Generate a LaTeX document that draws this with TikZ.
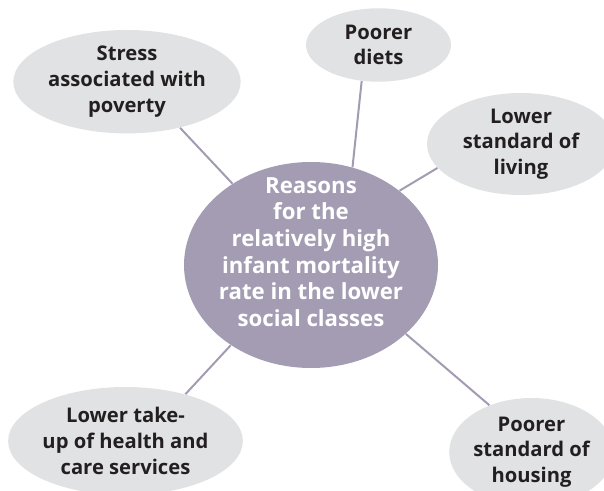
\documentclass[tikz,border=0pt]{standalone}
\usepackage{fontspec}
\setmainfont{Open Sans}
\usetikzlibrary{shapes.geometric}

\definecolor{bubble}{HTML}{E1E2E3}
\definecolor{hub}{HTML}{A49CB3}
\definecolor{spoke}{HTML}{A39BB2}
\definecolor{ink}{HTML}{231F20}

\begin{document}
\begin{tikzpicture}[x=0.5pt,y=-0.5pt,
  reason/.style={ellipse, fill=bubble, inner sep=0pt, align=center, text=ink,
    font=\fontsize{10.1}{12.85}\selectfont\bfseries},
  spoke/.style={draw=spoke, line width=1pt}]

  \clip (0,0) rectangle (604,491);

  % the hub
  \node [ellipse, fill=hub, minimum width=127pt, minimum height=103pt, inner sep=0pt,
    label={[yshift=6.5pt, align=center, text=white, font=\fontsize{11.1}{13.35}\selectfont\bfseries]center:Reasons\\for the\\relatively high\\infant mortality\\rate in the lower\\social classes}]
    (hub) at (311,265) {};

  % the reasons round it
  \node [reason, minimum width=113.7pt, minimum height=51.7pt] (stress) at (127,81.7) {Stress\\associated with\\poverty};
  \node [reason, minimum width=72.5pt, minimum height=36.7pt] (diets) at (378.5,45) {Poorer\\diets};
  \node [reason, minimum width=94pt, minimum height=51pt] (living) at (521,144) {Lower\\standard of\\living};
  \node [reason, minimum width=112.8pt, minimum height=54pt] (takeup) at (125.5,441) {Lower take-\\up of health and\\care services};
  \node [reason, minimum width=80pt, minimum height=54pt] (housing) at (531.5,452) {Poorer\\standard of\\housing};

  \draw [spoke] (hub.134.3) -- (stress.-41.3);
  \draw [spoke] (hub.67.9) -- (diets.245.4);
  \draw [spoke] (hub.40.1) -- (living.196.7);
  \draw [spoke] (hub.225.9) -- (takeup.38.7);
  \draw [spoke] (hub.324.5) -- (housing.132.8);

\end{tikzpicture}
\end{document}
